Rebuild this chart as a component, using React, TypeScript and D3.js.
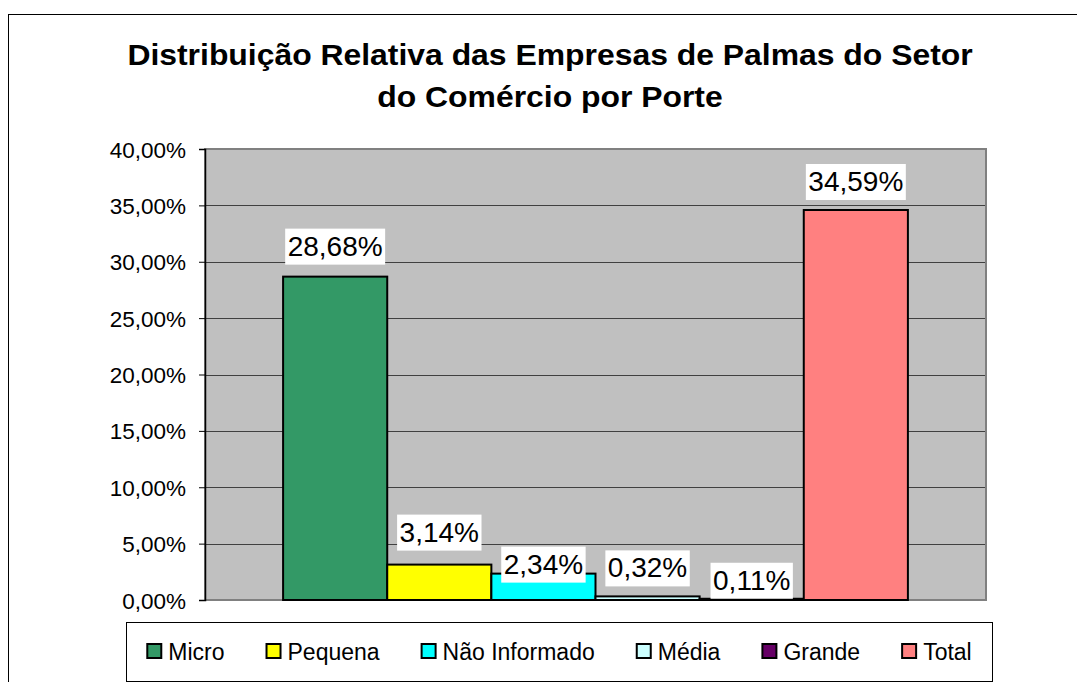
import { useEffect, useRef } from 'react';
import * as d3 from 'd3';

const title = ['Distribuição Relativa das Empresas de Palmas do Setor', 'do Comércio por Porte'];
const series = ['Micro', 'Pequena', 'Não Informado', 'Média', 'Grande', 'Total'];
const values = [28.68, 3.14, 2.34, 0.32, 0.11, 34.59];
const colors = ['#339966', '#FFFF00', '#00FFFF', '#CCFFFF', '#660066', '#FF8080'];
const yTicks = [0, 5, 10, 15, 20, 25, 30, 35, 40];
// manual label nudges (px), as placed in the original sheet
const labelNudge = [-2, -4, 19, 0, 10, 0];

const W = 1077;
const H = 682;
const FONT = '"Liberation Sans", Arial, sans-serif';

const fmt = (v: number) => v.toFixed(2).replace('.', ',') + '%';

const App = () => {
  const svgRef = useRef<SVGSVGElement>(null);

  useEffect(() => {
    if (!svgRef.current) return;
    const svg = d3.select(svgRef.current);
    svg.selectAll('*').remove();

    const plot = { left: 205, top: 149, right: 986, bottom: 600 };

    // outer chart border
    svg.append('rect')
      .attr('x', 8.5).attr('y', 14.5)
      .attr('width', 1200).attr('height', 1000)
      .attr('fill', '#fff').attr('stroke', '#000').attr('stroke-width', 1);

    // title (original renders a bit wider than Liberation, stretch it)
    const t = svg.append('text')
      .attr('transform', 'translate(550,0) scale(1.1,1)')
      .attr('text-anchor', 'middle')
      .attr('font-family', FONT)
      .attr('font-weight', 'bold')
      .attr('font-size', 29);
    title.forEach((line, i) => {
      t.append('tspan').attr('x', 0).attr('y', 65 + i * 42).text(line);
    });

    const y = d3.scaleLinear().domain([0, 40]).range([plot.bottom, plot.top]);

    // one category, six series side by side, gap width 150%
    const plotW = plot.right - plot.left;
    const groupW = plotW / (1 + 1.5 / series.length);
    const x = d3.scaleBand()
      .domain(series)
      .range([plot.left + (plotW - groupW) / 2, plot.left + (plotW + groupW) / 2]);

    svg.append('rect')
      .attr('x', plot.left).attr('y', plot.top)
      .attr('width', plotW).attr('height', plot.bottom - plot.top)
      .attr('fill', '#C0C0C0');

    svg.append('g')
      .selectAll('line')
      .data(yTicks.filter(d => d > 0 && d < 40))
      .enter().append('line')
      .attr('x1', plot.left).attr('x2', plot.right)
      .attr('y1', d => Math.round(y(d)) + 0.5).attr('y2', d => Math.round(y(d)) + 0.5)
      .attr('stroke', '#404040').attr('stroke-width', 1);

    svg.append('rect')
      .attr('x', plot.left).attr('y', plot.top)
      .attr('width', plotW).attr('height', plot.bottom - plot.top)
      .attr('fill', 'none').attr('stroke', '#808080').attr('stroke-width', 2);

    // y axis
    const axis = svg.append('g')
      .attr('transform', `translate(${plot.left},0)`)
      .call(d3.axisLeft(y).tickValues(yTicks).tickSize(6).tickPadding(13).tickFormat(d => fmt(+d)));
    axis.select('.domain').attr('stroke', '#000').attr('stroke-width', 1.5);
    axis.selectAll('.tick line').attr('stroke', '#000');
    axis.selectAll('.tick text')
      .attr('font-family', FONT).attr('font-size', 22.5).attr('fill', '#000').attr('dy', '0.36em');

    // bars
    svg.append('g')
      .selectAll('rect')
      .data(values)
      .enter().append('rect')
      .attr('x', (_, i) => x(series[i]) || 0)
      .attr('y', d => y(d))
      .attr('width', x.bandwidth())
      .attr('height', d => y(0) - y(d))
      .attr('fill', (_, i) => colors[i])
      .attr('stroke', '#000').attr('stroke-width', 2);

    // data labels
    const lab = svg.append('g').selectAll('g')
      .data(values)
      .enter().append('g');
    lab.each(function (d, i) {
      const g = d3.select(this);
      const cx = (x(series[i]) || 0) + x.bandwidth() / 2;
      const boxBottom = y(d) - 10 + labelNudge[i];
      const txt = g.append('text')
        .attr('x', cx).attr('y', boxBottom - 9)
        .attr('text-anchor', 'middle')
        .attr('font-family', FONT).attr('font-size', 28)
        .attr('fill', '#000')
        .text(fmt(d));
      const w = (txt.node() as SVGTextElement).getComputedTextLength() + 5;
      g.insert('rect', 'text')
        .attr('x', cx - w / 2).attr('y', boxBottom - 36)
        .attr('width', w).attr('height', 36)
        .attr('fill', '#fff');
    });

    // legend
    const leg = { left: 126, top: 622, right: 992, bottom: 681 };
    svg.append('rect')
      .attr('x', leg.left + 0.5).attr('y', leg.top + 0.5)
      .attr('width', leg.right - leg.left).attr('height', leg.bottom - leg.top)
      .attr('fill', '#fff').attr('stroke', '#000').attr('stroke-width', 1);

    const items = svg.append('g');
    const widths: number[] = [];
    series.forEach((s, i) => {
      const it = items.append('g');
      it.append('rect')
        .attr('x', 1).attr('y', 644)
        .attr('width', 14).attr('height', 14)
        .attr('fill', colors[i]).attr('stroke', '#000').attr('stroke-width', 2);
      const tx = it.append('text')
        .attr('x', 22).attr('y', 660)
        .attr('font-family', FONT).attr('font-size', 23).attr('fill', '#000')
        .text(s);
      widths.push(22 + (tx.node() as SVGTextElement).getComputedTextLength());
    });
    const gap = 41;
    const total = d3.sum(widths) + gap * (widths.length - 1);
    let cur = (leg.left + leg.right) / 2 - total / 2;
    items.selectAll<SVGGElement, unknown>(':scope > g').each(function (_, i) {
      d3.select(this).attr('transform', `translate(${cur},0)`);
      cur += widths[i] + gap;
    });
  }, []);

  return (
    <svg
      ref={svgRef}
      width={W}
      height={H}
      style={{ position: 'absolute', left: 0, top: 0, display: 'block', background: '#fff' }}
    />
  );
};

export default App;
